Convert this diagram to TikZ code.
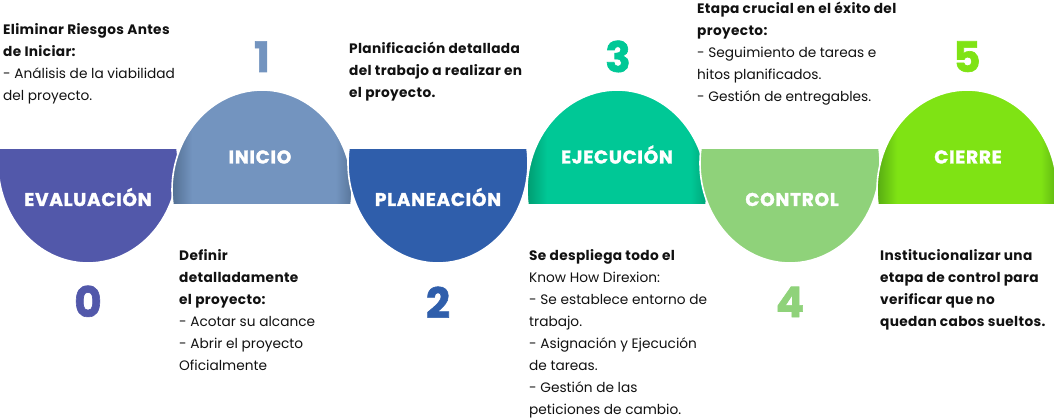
\documentclass[tikz,border=0pt]{standalone}
\usepackage{fontspec}
\setmainfont{Poppins}[BoldFeatures={LetterSpace=2.5}]
\newfontfamily\stagefont{Poppins}[LetterSpace=4, BoldFeatures={FakeBold=1.6}]
\newfontfamily\numfont{Poppins}[BoldFeatures={FakeBold=1.5}]
\usepackage{xcolor}
\usepackage{tikz}
\usetikzlibrary{positioning}

\definecolor{evalBlue}{HTML}{5258AA}
\definecolor{inicioBase}{HTML}{7394BF}
\definecolor{inicioDark}{HTML}{4E6A8C}
\definecolor{planBlue}{HTML}{2F5EAB}
\definecolor{ejecBase}{HTML}{00C896}
\definecolor{ejecDark}{HTML}{00966C}
\definecolor{controlGreen}{HTML}{8FD27A}
\definecolor{cierreBase}{HTML}{7FE314}
\definecolor{cierreDark}{HTML}{52A412}
\definecolor{bodyText}{HTML}{111111}

\pgfdeclarehorizontalshading{inicioShade}{100bp}{color(0bp)=(inicioDark); color(25bp)=(inicioDark); color(31bp)=(inicioBase); color(69bp)=(inicioBase); color(75bp)=(inicioDark); color(100bp)=(inicioDark)}
\pgfdeclarehorizontalshading{ejecShade}{100bp}{color(0bp)=(ejecDark); color(25bp)=(ejecDark); color(31bp)=(ejecBase); color(69bp)=(ejecBase); color(75bp)=(ejecDark); color(100bp)=(ejecDark)}
\pgfdeclarehorizontalshading{cierreShade}{100bp}{color(0bp)=(cierreDark); color(25bp)=(cierreDark); color(31bp)=(cierreBase); color(69bp)=(cierreBase); color(75bp)=(cierreDark); color(100bp)=(cierreDark)}

\begin{document}
\begin{tikzpicture}[
    x=1pt, y=1pt,
    arch/.style={
        draw=white,
        line width=1.6pt
    },
    stage_label/.style={
        anchor=base,
        inner sep=0pt,
        text=white,
        font=\stagefont\fontsize{18.5}{18.5}\selectfont\bfseries
    },
    stage_num/.style={
        anchor=base,
        inner sep=0pt,
        font=\numfont\fontsize{42}{42}\selectfont\bfseries
    },
    desc/.style={
        anchor=north west,
        align=left,
        inner sep=0pt,
        text=bodyText,
        font=\fontsize{13.7}{22}\selectfont
    }
]
    \useasboundingbox (0,0) rectangle (1054,418);

    % ====== 0: EVALUACIÓN (abajo) ======
    \fill[evalBlue, arch] (-0.98,270) arc[start angle=171.373, end angle=368.627, x radius=90, y radius=100] -- cycle;
    % ====== 1: INICIO (arriba) ======
    \shadedraw[shading=inicioShade, arch] (350.98,213) arc[start angle=-8.627, end angle=188.627, x radius=90, y radius=100] -- cycle;
    % ====== 2: PLANEACIÓN (abajo) ======
    \fill[planBlue, arch] (349.02,270) arc[start angle=171.373, end angle=368.627, x radius=90, y radius=100] -- cycle;
    % ====== 3: EJECUCIÓN (arriba) ======
    \shadedraw[shading=ejecShade, arch] (705.98,213) arc[start angle=-8.627, end angle=188.627, x radius=90, y radius=100] -- cycle;
    % ====== 4: CONTROL (abajo) ======
    \fill[controlGreen, arch] (701.02,270) arc[start angle=171.373, end angle=368.627, x radius=90, y radius=100] -- cycle;
    % ====== 5: CIERRE (arriba) ======
    \shadedraw[shading=cierreShade, arch] (1055.98,213) arc[start angle=-8.627, end angle=188.627, x radius=90, y radius=100] -- cycle;

    % nombres de las etapas
    \node[stage_label] (evaluacion) at (88,212) {EVALUACIÓN};
    \node[stage_label] (inicio) at (260,254.5) {INICIO};
    \node[stage_label] (planeacion) at (438,212) {PLANEACIÓN};
    \node[stage_label] (ejecucion) at (617,254.5) {EJECUCIÓN};
    \node[stage_label] (control) at (792,212) {CONTROL};
    \node[stage_label] (cierre) at (968,254.5) {CIERRE};

    % números de las etapas
    \node[stage_num, text=evalBlue] (num_0) at (88,101) {0};
    \node[stage_num, text=inicioBase] (num_1) at (262,346) {1};
    \node[stage_num, text=planBlue] (num_2) at (438,100) {2};
    \node[stage_num, text=ejecBase] (num_3) at (618,346) {3};
    \node[stage_num, text=controlGreen] (num_4) at (790,101) {4};
    \node[stage_num, text=cierreBase] (num_5) at (967,346) {5};

    % textos descriptivos
    \node[desc] (desc_0) at (3,395) {\textbf{Eliminar Riesgos Antes}\\\textbf{de Iniciar:}\\- Análisis de la viabilidad\\del proyecto.};
    \node[desc] (desc_1) at (179,169) {\textbf{Definir}\\\textbf{detalladamente}\\\textbf{el proyecto:}\\- Acotar su alcance\\- Abrir el proyecto\\Oficialmente};
    \node[desc] (desc_2) at (349,376) {\textbf{Planificación detallada}\\\textbf{del trabajo a realizar en}\\\textbf{el proyecto.}};
    \node[desc] (desc_3) at (529,169) {\textbf{Se despliega todo el}\\Know How Direxion:\\- Se establece entorno de\\trabajo.\\- Asignación y Ejecución\\de tareas.\\- Gestión de las\\peticiones de cambio.};
    \node[desc] (desc_4) at (697,416) {\textbf{Etapa crucial en el éxito del}\\\textbf{proyecto:}\\- Seguimiento de tareas e\\hitos planificados.\\- Gestión de entregables.};
    \node[desc] (desc_5) at (880,169) {\textbf{Institucionalizar una}\\\textbf{etapa de control para}\\\textbf{verificar que no}\\\textbf{quedan cabos sueltos.}};

\end{tikzpicture}
\end{document}
